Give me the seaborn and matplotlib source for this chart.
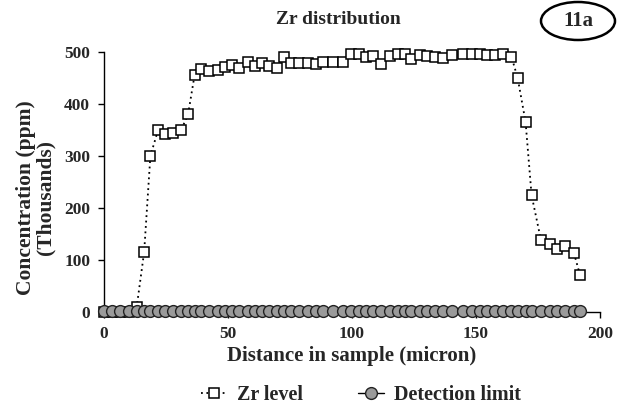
import matplotlib
matplotlib.use("Agg")
import matplotlib.pyplot as plt
import seaborn as sns
import pandas as pd
from matplotlib.patches import Ellipse

# ---- data ----
zr_distance = [0.0, 3.3, 6.6, 9.9, 13.2, 16.2, 18.7, 21.8, 24.6, 27.9, 31.1, 33.9,
               36.5, 39.3, 42.5, 45.8, 48.6, 51.7, 54.6, 57.9, 60.7, 63.7, 66.7, 69.7,
               72.7, 75.5, 78.8, 82.1, 85.3, 88.4, 92.2, 96.3, 99.7, 103.0, 105.7, 108.4,
               111.8, 115.2, 118.5, 121.2, 123.9, 127.3, 130.2, 133.3, 136.7, 140.5, 144.8,
               148.2, 151.5, 154.5, 157.6, 161.0, 164.3, 166.8, 170.0, 172.4, 176.2, 179.8,
               182.8, 185.9, 189.5, 191.9]
zr_level = [0, 0, 0, 0, 10, 116, 300, 350, 342, 344, 350, 380,
            455, 467, 463, 465, 472, 475, 470, 481, 473, 479, 473, 469,
            490, 479, 478, 479, 477, 481, 481, 481, 496, 496, 491, 492,
            477, 492, 496, 497, 486, 494, 492, 491, 488, 495, 497,
            496, 496, 494, 494, 496, 491, 450, 365, 225, 138, 130,
            122, 127, 113, 72]
detection_limit = [1.5] * len(zr_distance)

x_ticks = [0, 50, 100, 150, 200]
y_ticks = [0, 100, 200, 300, 400, 500]

df_zr = pd.DataFrame({"distance": zr_distance, "value": zr_level})
df_det = pd.DataFrame({"distance": zr_distance, "value": detection_limit})

sns.set_style("white")
plt.rcParams["font.family"] = ["Liberation Serif", "DejaVu Serif"]
plt.rcParams["font.weight"] = "bold"

fig = plt.figure(figsize=(6.17, 4.11), dpi=100)
ax = fig.add_axes([104 / 617, 1 - 312 / 411, (600 - 104) / 617, (312 - 52) / 411])

sns.lineplot(data=df_zr, x="distance", y="value", ax=ax, sort=False, estimator=None,
             color="black", linestyle=(0, (1, 2)), linewidth=1.3, marker="s",
             markersize=7, markerfacecolor="white", markeredgecolor="black",
             markeredgewidth=1.1, label="Zr level", clip_on=False, zorder=3)
sns.lineplot(data=df_det, x="distance", y="value", ax=ax, sort=False, estimator=None,
             color="black", linestyle="-", linewidth=1.0, marker="o",
             markersize=8.5, markerfacecolor="#9a9a9a", markeredgecolor="#222222",
             markeredgewidth=1.0, label="Detection limit", clip_on=False, zorder=4)

ax.set_xlim(0, 200)
ax.set_ylim(0, 500)
ax.set_xticks(x_ticks)
ax.set_yticks(y_ticks)
ax.set_xticklabels([str(t) for t in x_ticks], fontsize=12.5, fontweight="bold")
ax.set_yticklabels([str(t) for t in y_ticks], fontsize=12.5, fontweight="bold")
ax.tick_params(axis="both", direction="out", length=4, width=1.0, color="black",
               bottom=True, left=True, pad=6)

for s in ["top", "right"]:
    ax.spines[s].set_visible(False)
for s in ["left", "bottom"]:
    ax.spines[s].set_color("black")
    ax.spines[s].set_linewidth(1.0)

ax.set_xlabel("Distance in sample (micron)", fontsize=15, fontweight="bold", labelpad=3)
ax.set_ylabel("Concentration (ppm)\n(Thousands)", fontsize=15.5, fontweight="bold",
              linespacing=0.95)
ax.yaxis.set_label_coords(-0.098, 0.44)
fig.text(338 / 617, 1 - 20 / 411, "Zr distribution", ha="center", va="center",
         fontsize=14, fontweight="bold")

# "11a" label in an ellipse
fig.patches.append(Ellipse((578 / 617, 1 - 21 / 411), 74 / 617, 38 / 411,
                           transform=fig.transFigure, fill=False,
                           edgecolor="black", linewidth=1.8))
fig.text(578 / 617, 1 - 21 / 411, "11a", ha="center", va="center",
         fontsize=15, fontweight="bold")

ax.get_legend().remove()
handles, labels = ax.get_legend_handles_labels()
fig.legend(handles, labels, loc="center", bbox_to_anchor=(0.585, 0.04), ncol=2,
           frameon=False, handlelength=1.3, columnspacing=2.7,
           handletextpad=0.5, prop={"weight": "bold", "size": 14.5})

fig.savefig("out.png", dpi=100)
